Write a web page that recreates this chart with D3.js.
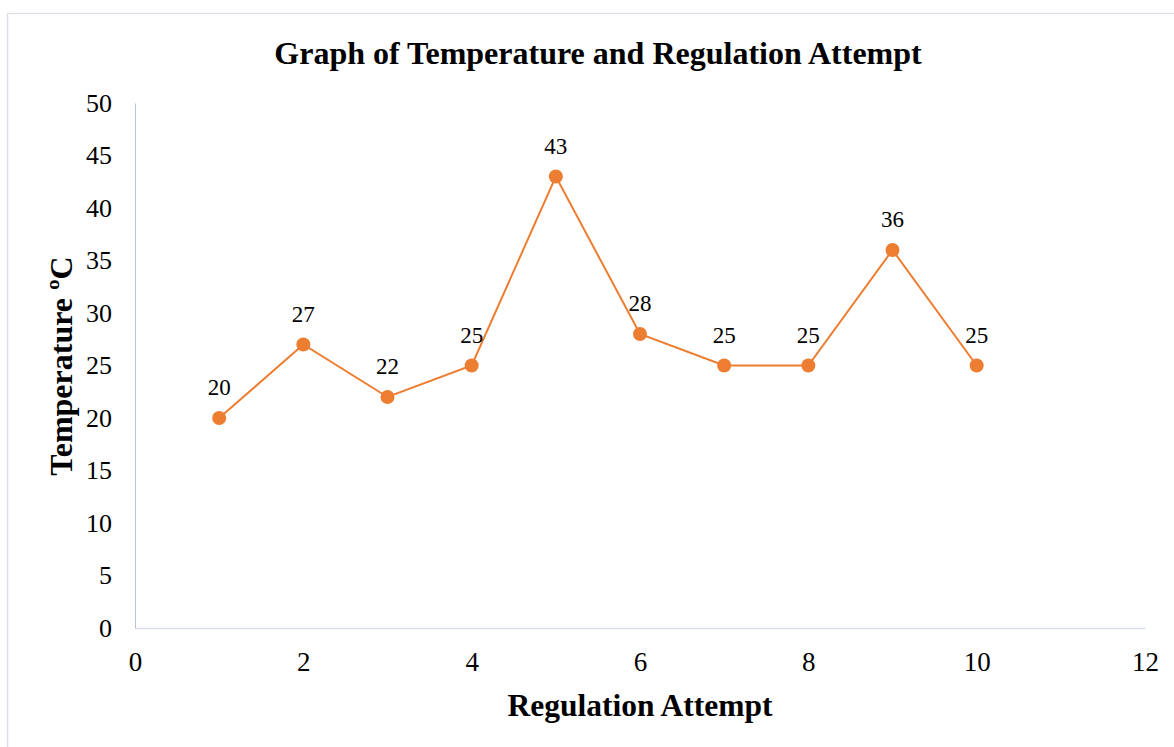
<!DOCTYPE html>
<html>
<head>
<meta charset="utf-8">
<script src="https://cdn.jsdelivr.net/npm/d3@7"></script>
<style>
  html, body { margin: 0; padding: 0; background: #fff; }
  svg { display: block; }
  text { font-family: "Liberation Serif", "Times New Roman", serif; fill: #000; }
</style>
</head>
<body>
<svg id="chart" width="1174" height="747"></svg>
<script>
const attempts = [1, 2, 3, 4, 5, 6, 7, 8, 9, 10];
const temperatures = [20, 27, 22, 25, 43, 28, 25, 25, 36, 25];
const xTicks = [0, 2, 4, 6, 8, 10, 12];
const yTicks = [0, 5, 10, 15, 20, 25, 30, 35, 40, 45, 50];
const titleText = "Graph of Temperature and Regulation Attempt";
const xTitle = "Regulation Attempt";
const yTitle = "Temperature ºC";

const svg = d3.select("#chart");
const m = { left: 135, right: 1145, top: 103, bottom: 628 };

svg.append("rect")
  .attr("x", 7.5).attr("y", 13.5)
  .attr("width", 1200).attr("height", 800)
  .attr("fill", "none").attr("stroke", "#dde1e7").attr("stroke-width", 1.5);

const x = d3.scaleLinear().domain([0, 12]).range([m.left, m.right]);
const y = d3.scaleLinear().domain([0, 50]).range([m.bottom, m.top]);

// X axis
const xAxis = svg.append("g")
  .attr("transform", `translate(0,${m.bottom})`)
  .call(d3.axisBottom(x).tickValues(xTicks).tickSize(0).tickPadding(24).tickFormat(d3.format("d")));
xAxis.select(".domain").attr("stroke", "#d9dde5").attr("stroke-width", 1.5);
xAxis.selectAll("text").style("font-size", "27px").style("font-family", '"Liberation Serif", serif').attr("fill", "#000");

// Y axis
const yAxis = svg.append("g")
  .attr("transform", `translate(${m.left},0)`)
  .call(d3.axisLeft(y).tickValues(yTicks).tickSize(0).tickPadding(23).tickFormat(d3.format("d")));
yAxis.select(".domain").attr("stroke", "#bcc4d4").attr("stroke-width", 1);
yAxis.selectAll("text").style("font-size", "26px").style("font-family", '"Liberation Serif", serif').attr("fill", "#000");

// Titles
svg.append("text")
  .attr("x", 598).attr("y", 64)
  .attr("text-anchor", "middle")
  .style("font-size", "32px").style("font-weight", "bold")
  .text(titleText);

svg.append("text")
  .attr("x", (m.left + m.right) / 2).attr("y", 716)
  .attr("text-anchor", "middle")
  .style("font-size", "31.5px").style("font-weight", "bold")
  .text(xTitle);

svg.append("text")
  .attr("transform", `translate(72,366) rotate(-90)`)
  .attr("text-anchor", "middle")
  .style("font-size", "32px").style("font-weight", "bold")
  .text(yTitle);

const data = attempts.map((a, i) => ({ a, t: temperatures[i] }));

svg.append("path")
  .datum(data)
  .attr("fill", "none")
  .attr("stroke", "#ed7d31")
  .attr("stroke-width", 2)
  .attr("d", d3.line().x(d => x(d.a)).y(d => y(d.t)));

svg.selectAll("circle.pt")
  .data(data).enter().append("circle")
  .attr("class", "pt")
  .attr("cx", d => x(d.a)).attr("cy", d => y(d.t))
  .attr("r", 7)
  .attr("fill", "#ed7d31");

svg.selectAll("text.lbl")
  .data(data).enter().append("text")
  .attr("class", "lbl")
  .attr("x", d => x(d.a)).attr("y", d => y(d.t) - 23)
  .attr("text-anchor", "middle")
  .style("font-size", "23px")
  .text(d => d.t);
</script>
</body>
</html>
